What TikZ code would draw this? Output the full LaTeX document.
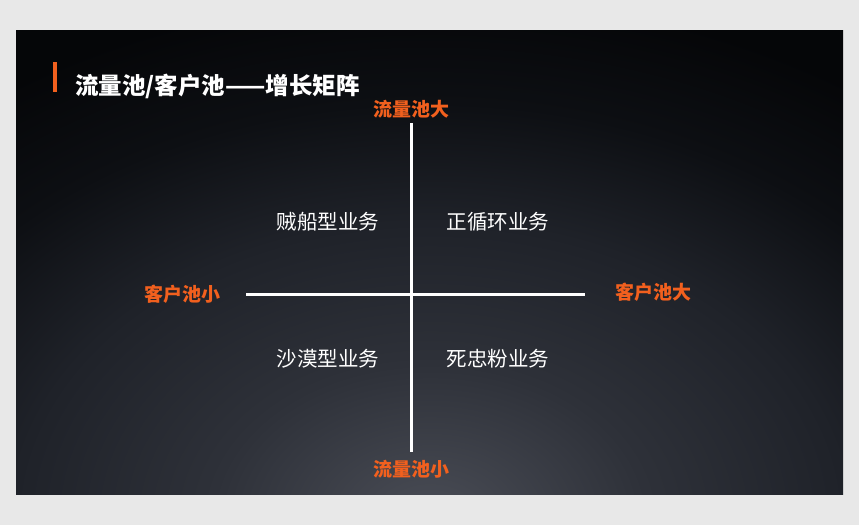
\documentclass[tikz,border=0pt]{standalone}
\usepackage{fontspec}
\newfontfamily\cjk{Noto Sans CJK SC}
\usepackage{xcolor}
\definecolor{cpage}{HTML}{E8E8E8}
\definecolor{cdark}{HTML}{050608}
\definecolor{cglow}{HTML}{4A4D56}
\definecolor{cglowa}{HTML}{2E3139}
\definecolor{cglowb}{HTML}{1F2229}
\definecolor{cglowc}{HTML}{0D0F13}
\definecolor{corange}{HTML}{F2601E}
\usepackage{tikz}
\usetikzlibrary{positioning}
\pgfdeclareradialshading{slideglow}{\pgfpoint{0bp}{0bp}}{color(0bp)=(cglow); color(6.5bp)=(cglowa); color(12.4bp)=(cglowb); color(17.4bp)=(cglowc); color(22bp)=(cdark); color(50bp)=(cdark)}

\tikzset{
  axislabel/.style={text=corange, font=\cjk\bfseries\fontsize{19}{19}\selectfont, inner sep=0pt},
  quadlabel/.style={text=white, font=\cjk\fontsize{20.5}{20.5}\selectfont, inner sep=0pt},
  axisline/.style={draw=white, line width=3pt}
}

\begin{document}
\begin{tikzpicture}[x=1pt, y=-1pt]
  \useasboundingbox (0,0) rectangle (859,525);
  % Fondo
  \fill[cpage] (0,0) rectangle (859,525);
  \begin{scope}
    \clip (16,30) rectangle (843,494);
    \fill[cdark] (16,30) rectangle (843,494);
    \shade[shading=slideglow] (430,520) ellipse [x radius=840, y radius=600];
  \end{scope}
  % Titulo
  \fill[corange] (53,62) rectangle (56.5,92);
  \node[anchor=west, text=white, inner sep=0pt, font=\cjk\bfseries\fontsize{23.5}{23.5}\selectfont] (title) at (75,86) {流量池/客户池——增长矩阵};
  % Ejes
  \coordinate (ytop) at (411,123);
  \coordinate (ybot) at (411,452);
  \coordinate (xleft) at (246,294);
  \coordinate (xright) at (585,294);
  \draw[axisline] (ytop) -- (ybot);
  \draw[axisline] (xleft) -- (xright);
  % Labels ejes
  \node[axislabel] (flowhigh) at (411,109) {流量池大};
  \node[axislabel] (flowlow) at (411,469) {流量池小};
  \node[axislabel] (custlow) at (182,294) {客户池小};
  \node[axislabel] (custhigh) at (653,292) {客户池大};
  % Cuadrantes
  \node[quadlabel] (pirate) at (328,222) {贼船型业务};
  \node[quadlabel] (virtuous) at (498,222) {正循环业务};
  \node[quadlabel] (desert) at (328,359) {沙漠型业务};
  \node[quadlabel] (loyal) at (498,359) {死忠粉业务};
\end{tikzpicture}
\end{document}
